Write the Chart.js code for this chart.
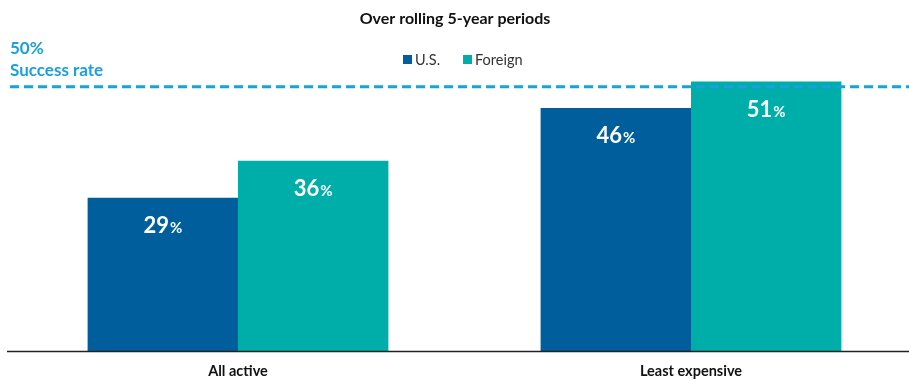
<!DOCTYPE html>
<html><head><meta charset="utf-8">
<script src="https://cdn.jsdelivr.net/npm/chart.js@4/dist/chart.umd.min.js"></script>
<style>html,body{margin:0;padding:0;background:#fff;overflow:hidden}#wrap{position:relative;width:920px;height:381px}</style>
</head><body><div id="wrap"><canvas id="c"></canvas></div>
<script>
const categories = ["All active", "Least expensive"];
const usValues = [29, 46];
const foreignValues = [36, 51];
const seriesNames = ["U.S.", "Foreign"];
const targetValue = 50;
const targetLabel = ["50%", "Success rate"];
const chartTitle = "Over rolling 5-year periods";

const C_US = "#005E9C", C_FOR = "#00AEA9", C_LINE = "#1AA0DC";
const FONT = "Lato, 'Noto Sans', sans-serif";

const overlay = {
  id: "overlay",
  afterDatasetsDraw(chart) {
    const ctx = chart.ctx, y = chart.scales.y, area = chart.chartArea;
    ctx.save();
    ctx.strokeStyle = "#222"; ctx.lineWidth = 1.5;
    ctx.beginPath(); ctx.moveTo(7, area.bottom + 0.5); ctx.lineTo(909, area.bottom + 0.5); ctx.stroke();
    const ty = y.getPixelForValue(targetValue);
    ctx.strokeStyle = C_LINE; ctx.lineWidth = 3; ctx.setLineDash([9, 5]);
    ctx.beginPath(); ctx.moveTo(10, ty); ctx.lineTo(909, ty); ctx.stroke();
    ctx.setLineDash([]);
    ctx.fillStyle = C_LINE; ctx.font = "bold 17px " + FONT; ctx.textBaseline = "middle"; ctx.textAlign = "left";
    ctx.fillText(targetLabel[0], 10, 49);
    ctx.fillText(targetLabel[1], 10, 71);
    ctx.fillStyle = "#111"; ctx.font = "bold 16px " + FONT; ctx.textAlign = "center";
    ctx.fillText(chartTitle, 455, 19);
    ctx.font = "14.5px " + FONT; ctx.textAlign = "left";
    const lx = [403, 463], cols = [C_US, C_FOR];
    seriesNames.forEach((n, i) => {
      ctx.fillStyle = cols[i]; ctx.fillRect(lx[i], 55, 9, 9);
      ctx.fillStyle = "#333"; ctx.fillText(n, lx[i] + 12, 60);
    });
    chart.data.datasets.forEach((ds, di) => {
      const meta = chart.getDatasetMeta(di);
      meta.data.forEach((bar, i) => {
        const num = String(ds.data[i]);
        ctx.fillStyle = "#fff"; ctx.textBaseline = "alphabetic";
        ctx.font = "bold 22px " + FONT;
        const w1 = ctx.measureText(num).width;
        ctx.font = "bold 15px " + FONT;
        const w2 = ctx.measureText("%").width;
        const x0 = bar.x - (w1 + w2 + 1) / 2, by = bar.y + 35;
        ctx.font = "bold 22px " + FONT; ctx.textAlign = "left";
        ctx.fillText(num, x0, by);
        ctx.font = "bold 15px " + FONT;
        ctx.fillText("%", x0 + w1 + 1, by);
      });
    });
    ctx.restore();
  }
};

new Chart(document.getElementById("c"), {
  type: "bar",
  data: {
    labels: categories,
    datasets: [
      { label: seriesNames[0], data: usValues, backgroundColor: C_US },
      { label: seriesNames[1], data: foreignValues, backgroundColor: C_FOR }
    ]
  },
  options: {
    responsive: true, maintainAspectRatio: false, animation: false,
    layout: { padding: { left: 11.5, right: 2.5, top: 34, bottom: 0 } },
    datasets: { bar: { barPercentage: 1, categoryPercentage: 0.664 } },
    plugins: { legend: { display: false }, tooltip: { enabled: false }, title: { display: false } },
    scales: {
      x: {
        grid: { display: false, drawTicks: false, tickLength: 0 }, border: { display: false },
        ticks: { color: "#111", font: { family: FONT, size: 14.5, weight: "bold" }, padding: 12 },
        afterFit(scale) { scale.height = 30; }
      },
      y: { display: false, min: 0, max: 60 }
    }
  },
  plugins: [overlay]
});
</script></body></html>
